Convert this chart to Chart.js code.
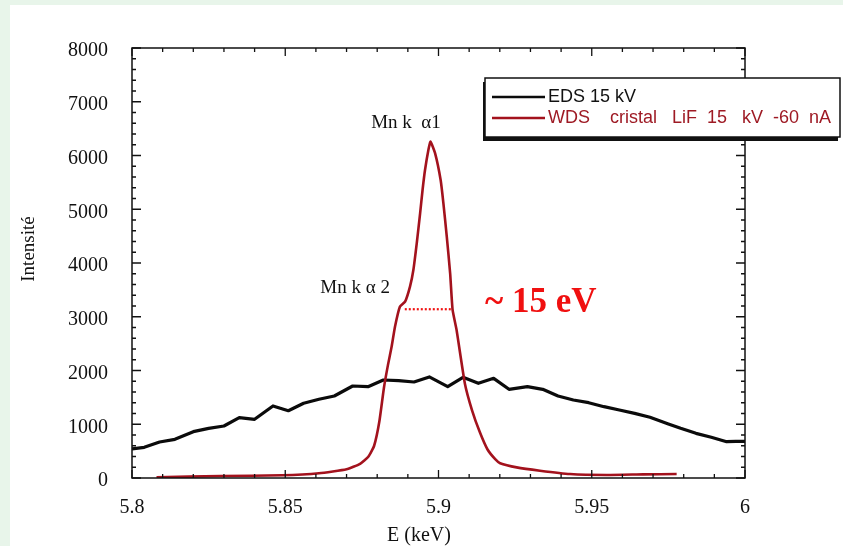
<!DOCTYPE html>
<html>
<head>
<meta charset="utf-8">
<script src="https://cdn.jsdelivr.net/npm/chart.js@4/dist/chart.umd.min.js"></script>
<style>
  html, body { margin: 0; padding: 0; background: #e8f5ea; }
  #wrap { width: 843px; height: 546px; position: relative; }
  canvas { display: block; }
</style>
</head>
<body>
<div id="wrap"><canvas id="c" width="843" height="546"></canvas></div>
<script>
// ---- data ----
const edsEnergy = [5.800, 5.804, 5.809, 5.814, 5.820, 5.825, 5.830, 5.835, 5.840, 5.846,
                   5.851, 5.856, 5.861, 5.866, 5.872, 5.877, 5.882, 5.887, 5.892, 5.897,
                   5.903, 5.908, 5.913, 5.918, 5.923, 5.929, 5.934, 5.939, 5.944, 5.949,
                   5.954, 5.959, 5.964, 5.969, 5.975, 5.979, 5.984, 5.989, 5.994, 5.997, 6.000];
const edsIntensity = [540, 571, 670, 720, 862, 924, 967, 1122, 1092, 1340,
                      1252, 1390, 1464, 1526, 1712, 1699, 1823, 1811, 1786, 1880,
                      1699, 1873, 1761, 1854, 1650, 1699, 1650, 1526, 1451, 1401,
                      1327, 1265, 1203, 1129, 1005, 924, 831, 757, 676, 682, 682];

const wdsEnergy = [5.808, 5.829, 5.849, 5.861, 5.870, 5.8744, 5.8771, 5.8790, 5.8807, 5.8822,
                   5.8835, 5.8847, 5.8858, 5.8874, 5.8891, 5.8907, 5.8918, 5.8929, 5.8940, 5.8948,
                   5.8956, 5.8967, 5.8974, 5.8989, 5.9007, 5.9016, 5.9027, 5.9038, 5.9046, 5.9059,
                   5.9086, 5.9110, 5.9135, 5.9160, 5.9185, 5.9201, 5.9255, 5.9331, 5.9429, 5.9549,
                   5.9668, 5.9777];
const wdsIntensity = [13, 37, 50, 87, 162, 265, 396, 600, 1050, 1680,
                      2100, 2440, 2815, 3187, 3280, 3560, 3870, 4366, 4924, 5358,
                      5730, 6102, 6257, 6040, 5544, 5111, 4490, 3808, 3126, 2753,
                      1760, 1250, 850, 530, 350, 275, 198, 136, 74, 56,
                      68, 74];

const fwhmEnergy = [5.889, 5.9045];
const fwhmIntensity = [3140, 3140];

const seriesLabels = ['EDS 15 kV', 'WDS    cristal   LiF  15   kV  -60  nA'];
const xTitle = 'E (keV)';
const yTitle = 'Intensité';

// ---- build datasets ----
const toXY = (xs, ys) => xs.map((x, i) => ({ x: x, y: ys[i] }));

const BLACK = '#0b0b0b';
const DARKRED = '#a3121d';
const BRIGHTRED = '#f01010';

const bgPlugin = {
  id: 'bg',
  beforeDraw(chart) {
    const ctx = chart.ctx;
    ctx.save();
    ctx.fillStyle = '#e8f5ea';
    ctx.fillRect(0, 0, chart.width, chart.height);
    ctx.fillStyle = '#ffffff';
    ctx.fillRect(10, 5, chart.width - 10, chart.height - 5);
    ctx.restore();
  }
};

const framePlugin = {
  id: 'frame',
  afterDraw(chart) {
    const ctx = chart.ctx;
    const a = chart.chartArea;
    const xs = chart.scales.x, ys = chart.scales.y;
    ctx.save();
    ctx.strokeStyle = '#111';
    ctx.lineWidth = 1.5;
    ctx.strokeRect(a.left, a.top, a.right - a.left, a.bottom - a.top);
    // inward ticks on x (every 0.01, major every 0.05)
    ctx.lineWidth = 1.3;
    ctx.beginPath();
    for (let i = 0; i <= 20; i++) {
      const v = 5.8 + i * 0.01;
      const px = xs.getPixelForValue(v);
      const len = (i % 5 === 0) ? 8 : 4;
      ctx.moveTo(px, a.bottom); ctx.lineTo(px, a.bottom - len);
      ctx.moveTo(px, a.top); ctx.lineTo(px, a.top + len);
    }
    for (let i = 0; i <= 40; i++) {
      const v = i * 200;
      const py = ys.getPixelForValue(v);
      const len = (i % 5 === 0) ? 9 : 4;
      ctx.moveTo(a.left, py); ctx.lineTo(a.left + len, py);
      ctx.moveTo(a.right, py); ctx.lineTo(a.right - len, py);
    }
    ctx.stroke();

    // axis titles
    ctx.fillStyle = '#111';
    ctx.font = '20px "Liberation Serif"';
    ctx.textAlign = 'center';
    ctx.textBaseline = 'middle';
    ctx.fillText(xTitle, 419, 536);
    ctx.save();
    ctx.translate(29, 249);
    ctx.rotate(-Math.PI / 2);
    ctx.font = '19px "Liberation Serif"';
    ctx.fillText(yTitle, 0, 0);
    ctx.restore();

    // annotations anchored in data coordinates
    ctx.font = '19px "Liberation Serif"';
    ctx.fillStyle = '#111';
    ctx.textAlign = 'center';
    ctx.fillText('Mn k  α1', xs.getPixelForValue(5.8894), ys.getPixelForValue(6610));
    ctx.fillText('Mn k α 2', xs.getPixelForValue(5.8728), ys.getPixelForValue(3540));
    ctx.font = 'bold 35px "Liberation Serif"';
    ctx.fillStyle = BRIGHTRED;
    ctx.textAlign = 'left';
    ctx.fillText('~ 15 eV', xs.getPixelForValue(5.9152), ys.getPixelForValue(3250));

    // legend box
    const lx = 485, ly = 78, lw = 355, lh = 59;
    ctx.fillStyle = '#111';
    ctx.fillRect(lx - 2, ly + 4, lw, lh);
    ctx.fillStyle = '#fff';
    ctx.fillRect(lx, ly, lw, lh);
    ctx.strokeStyle = '#111';
    ctx.lineWidth = 1.5;
    ctx.strokeRect(lx, ly, lw, lh);
    const ds = chart.data.datasets;
    ctx.font = '18px "Liberation Sans"';
    ctx.textBaseline = 'middle';
    ctx.textAlign = 'left';
    [0, 1].forEach((k, r) => {
      const yy = ly + 19 + r * 21;
      ctx.strokeStyle = ds[k].borderColor;
      ctx.lineWidth = 2.5;
      ctx.beginPath();
      ctx.moveTo(lx + 7, yy); ctx.lineTo(lx + 60, yy);
      ctx.stroke();
      ctx.fillStyle = k === 0 ? '#111' : '#9e1a24';
      ctx.fillText(ds[k].label, lx + 63, yy);
    });
    ctx.restore();
  }
};

new Chart(document.getElementById('c'), {
  type: 'line',
  data: {
    datasets: [
      { label: seriesLabels[0], data: toXY(edsEnergy, edsIntensity), borderColor: BLACK,
        borderWidth: 3.2, pointRadius: 0, tension: 0, order: 2, borderJoinStyle: 'round' },
      { label: seriesLabels[1], data: toXY(wdsEnergy, wdsIntensity), borderColor: DARKRED,
        borderWidth: 2.6, pointRadius: 0, tension: 0.15, order: 1, borderJoinStyle: 'round' },
      { label: 'FWHM', data: toXY(fwhmEnergy, fwhmIntensity), borderColor: BRIGHTRED,
        borderWidth: 2.2, borderDash: [2, 2], pointRadius: 0, order: 0 }
    ]
  },
  options: {
    responsive: false,
    animation: false,
    devicePixelRatio: 1,
    layout: { padding: { top: 48, right: 98, left: 0, bottom: 0 } },
    plugins: { legend: { display: false }, tooltip: { enabled: false } },
    scales: {
      x: {
        type: 'linear', min: 5.8, max: 6.0,
        grid: { display: false, drawTicks: false },
        border: { display: false },
        ticks: {
          stepSize: 0.05, padding: 18, maxRotation: 0, autoSkip: false, color: '#111',
          font: { family: '"Liberation Serif"', size: 20 },
          callback: v => String(parseFloat(Number(v).toFixed(2)))
        },
        afterFit: s => { s.height = 68; }
      },
      y: {
        min: 0, max: 8000,
        grid: { display: false, drawTicks: false },
        border: { display: false },
        ticks: {
          stepSize: 1000, padding: 24, color: '#111', labelOffset: 3,
          font: { family: '"Liberation Serif"', size: 20 },
          callback: v => String(v)
        },
        afterFit: s => { s.width = 132; }
      }
    }
  },
  plugins: [bgPlugin, framePlugin]
});
</script>
</body>
</html>
